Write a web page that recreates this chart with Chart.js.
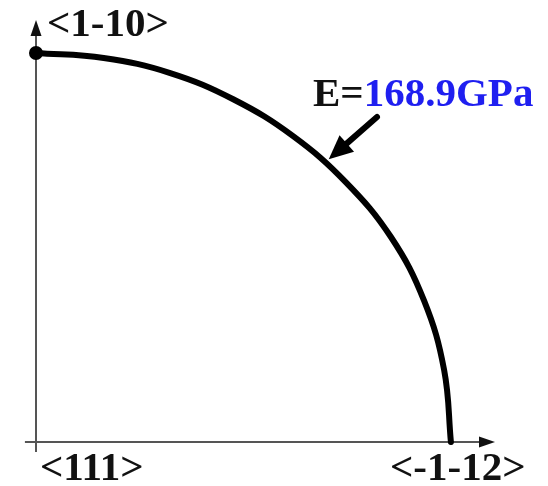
<!DOCTYPE html>
<html>
<head>
<meta charset="utf-8">
<script src="https://cdn.jsdelivr.net/npm/chart.js@4"></script>
<style>
    html, body { margin: 0; padding: 0; background: #fff; }
    #wrap { width: 548px; height: 486px; }
</style>
</head>
<body>
<div id="wrap"><canvas id="modChart" width="548" height="486"></canvas></div>
<script>
// Young's modulus (GPa) against the angle from <-1-12> towards <1-10>
const angulos = [0, 10, 20, 30, 40, 50, 60, 70, 80, 90];
const modulo = [172.2, 172.0, 171.4, 170.1, 167.8, 165.8, 164.1, 162.9, 161.8, 161.4];

// crystal directions at the ends of the axes
const dirTop = '<1-10>';
const dirOrigin = '<111>';
const dirRight = '<-1-12>';

// value called out on the curve
const eLabel = 'E=';
const eValor = 168.9;
const eAngulo = 44;

const rad = a => a * Math.PI / 180;
const pontos = angulos.map((a, i) => ({
    x: modulo[i] * Math.cos(rad(a)),
    y: modulo[i] * Math.sin(rad(a))
}));

const fonte = 'bold 41px "Liberation Serif", "Times New Roman", serif';

function seta(ctx, x0, y0, x1, y1, comp, larg) {
    const ang = Math.atan2(y1 - y0, x1 - x0);
    const c = Math.cos(ang), s = Math.sin(ang);
    ctx.beginPath();
    ctx.moveTo(x1, y1);
    ctx.lineTo(x1 - comp * c + larg / 2 * s, y1 - comp * s - larg / 2 * c);
    ctx.lineTo(x1 - comp * c - larg / 2 * s, y1 - comp * s + larg / 2 * c);
    ctx.closePath();
    ctx.fill();
}

// eixos com setas
const eixos = {
    id: 'eixos',
    beforeDatasetsDraw(chart) {
        const { ctx, scales: { x, y } } = chart;
        const x0 = x.getPixelForValue(0);
        const y0 = y.getPixelForValue(0);
        ctx.save();
        ctx.strokeStyle = '#555';
        ctx.fillStyle = '#111';
        ctx.lineWidth = 2;
        ctx.beginPath();
        ctx.moveTo(x.getPixelForValue(-4.6), y0);
        ctx.lineTo(x.right - 10, y0);
        ctx.moveTo(x0, y.getPixelForValue(-4.2));
        ctx.lineTo(x0, y.top + 10);
        ctx.stroke();
        seta(ctx, x0, y0, x.right, y0, 16, 11);
        seta(ctx, x0, y0, x0, y.top, 16, 11);
        ctx.restore();
    }
};

// textos das direcoes e o valor de E com a seta
const rotulos = {
    id: 'rotulos',
    afterDraw(chart) {
        const { ctx, scales: { x, y } } = chart;
        ctx.save();
        ctx.font = fonte;
        ctx.textBaseline = 'alphabetic';
        ctx.textAlign = 'left';
        ctx.fillStyle = '#111';
        ctx.fillText(dirTop, 47, 36);
        ctx.fillText(dirOrigin, 40, 480);
        ctx.fillText(dirRight, 390, 480);

        ctx.fillText(eLabel, 313, 106);
        const w = ctx.measureText(eLabel).width;
        ctx.fillStyle = '#1f1ff0';
        ctx.fillText(eValor.toFixed(1) + 'GPa', 313 + w, 106);

        // seta apontando para a curva
        const px = x.getPixelForValue(eValor * Math.cos(rad(eAngulo)));
        const py = y.getPixelForValue(eValor * Math.sin(rad(eAngulo)));
        const tx = 377, ty = 117;
        const ang = Math.atan2(py - ty, px - tx);
        ctx.strokeStyle = '#000';
        ctx.fillStyle = '#000';
        ctx.lineWidth = 6;
        ctx.lineCap = 'round';
        ctx.beginPath();
        ctx.moveTo(tx, ty);
        ctx.lineTo(px - 18 * Math.cos(ang), py - 18 * Math.sin(ang));
        ctx.stroke();
        seta(ctx, tx, ty, px, py, 24, 22);
        ctx.restore();
    }
};

const ctx = document.getElementById('modChart').getContext('2d');
new Chart(ctx, {
    type: 'scatter',
    data: {
        datasets: [{
            data: pontos,
            showLine: true,
            borderColor: '#000',
            backgroundColor: '#000',
            borderWidth: 6,
            borderCapStyle: 'round',
            borderJoinStyle: 'round',
            tension: 0.4,
            pointRadius: c => c.dataIndex === pontos.length - 1 ? 4 : 0,
            pointHoverRadius: 0,
            clip: false
        }]
    },
    options: {
        responsive: false,
        animation: false,
        events: [],
        layout: { padding: { left: 36, right: 53, top: 20, bottom: 44 } },
        plugins: {
            legend: { display: false },
            tooltip: { enabled: false }
        },
        scales: {
            x: { type: 'linear', min: 0, max: 190.5, display: false },
            y: { type: 'linear', min: 0, max: 175.1, display: false }
        }
    },
    plugins: [eixos, rotulos]
});
</script>
</body>
</html>
